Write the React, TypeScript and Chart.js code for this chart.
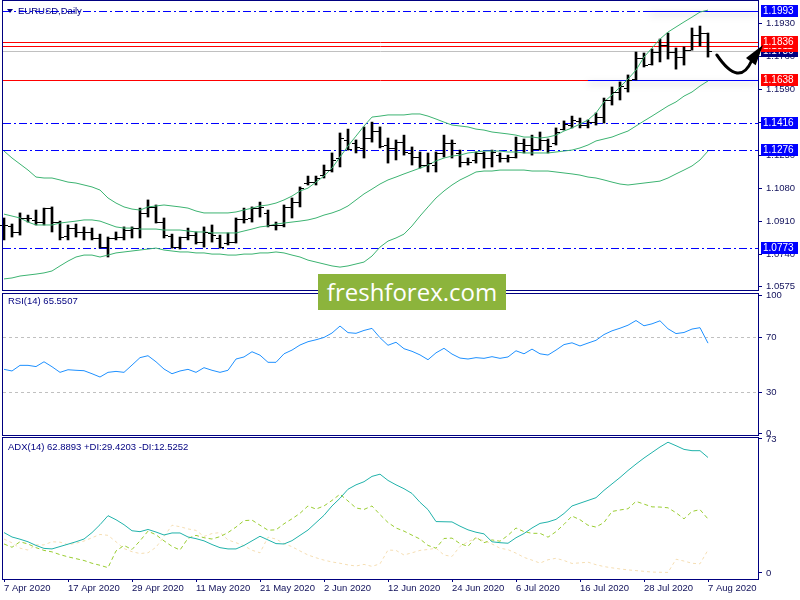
import React, { useEffect, useRef } from "react";
import { Chart, registerables } from "chart.js";

Chart.register(...registerables);

const FONT = "'Liberation Sans', Arial, sans-serif";
const NAVY = "#000080";
const AXIS_TEXT = "#10105a";

// ---- categories (one label every 8 daily bars) ----
const tickDates = [
  "7 Apr 2020", "17 Apr 2020", "29 Apr 2020", "11 May 2020", "21 May 2020", "2 Jun 2020",
  "12 Jun 2020", "24 Jun 2020", "6 Jul 2020", "16 Jul 2020", "28 Jul 2020", "7 Aug 2020",
];
const barsPerLabel = 8;

// ---- EURUSD daily OHLC ----
const openPrices = [
  1.0891, 1.0886, 1.0855, 1.0927, 1.0917, 1.0906, 1.0978, 1.0906, 1.0834, 1.0875,
  1.0855, 1.0855, 1.0824, 1.0777, 1.0824, 1.0829, 1.0865, 1.0875, 1.0953, 1.0984,
  1.0906, 1.0834, 1.0777, 1.0829, 1.0839, 1.0803, 1.0850, 1.0824, 1.0798, 1.0803,
  1.0922, 1.0927, 1.0978, 1.0953, 1.0891, 1.0891, 1.0984, 1.1009, 1.1107, 1.1112,
  1.1148, 1.1174, 1.1236, 1.1329, 1.1313, 1.1288, 1.1339, 1.1375, 1.1303, 1.1288,
  1.1318, 1.1262, 1.1241, 1.1200, 1.1200, 1.1262, 1.1313, 1.1262, 1.1215, 1.1226,
  1.1262, 1.1236, 1.1251, 1.1236, 1.1241, 1.1313, 1.1303, 1.1282, 1.1329, 1.1313,
  1.1385, 1.1406, 1.1427, 1.1406, 1.1421, 1.1447, 1.1535, 1.1576, 1.1597, 1.1643,
  1.1751, 1.1720, 1.1782, 1.1818, 1.1782, 1.1756, 1.1792, 1.1870, 1.1880,
];
const highPrices = [
  1.0927, 1.0896, 1.0953, 1.0942, 1.0968, 1.0978, 1.0984, 1.0911, 1.0891, 1.0896,
  1.0881, 1.0875, 1.0844, 1.0829, 1.0855, 1.0881, 1.0881, 1.0978, 1.1020, 1.0994,
  1.0927, 1.0844, 1.0829, 1.0875, 1.0855, 1.0881, 1.0891, 1.0839, 1.0850, 1.0927,
  1.0978, 1.0984, 1.1009, 1.0968, 1.0906, 1.0994, 1.1030, 1.1087, 1.1143, 1.1143,
  1.1200, 1.1262, 1.1365, 1.1385, 1.1329, 1.1396, 1.1421, 1.1396, 1.1339, 1.1329,
  1.1354, 1.1293, 1.1267, 1.1262, 1.1267, 1.1354, 1.1329, 1.1277, 1.1236, 1.1267,
  1.1267, 1.1277, 1.1262, 1.1251, 1.1344, 1.1334, 1.1354, 1.1370, 1.1334, 1.1391,
  1.1427, 1.1452, 1.1442, 1.1432, 1.1468, 1.1545, 1.1602, 1.1628, 1.1664, 1.1782,
  1.1777, 1.1798, 1.1849, 1.1880, 1.1803, 1.1808, 1.1906, 1.1916, 1.1880,
];
const lowPrices = [
  1.0814, 1.0829, 1.0839, 1.0906, 1.0891, 1.0891, 1.0855, 1.0814, 1.0814, 1.0829,
  1.0814, 1.0814, 1.0772, 1.0726, 1.0814, 1.0814, 1.0824, 1.0824, 1.0932, 1.0901,
  1.0824, 1.0772, 1.0767, 1.0814, 1.0793, 1.0777, 1.0803, 1.0772, 1.0788, 1.0798,
  1.0901, 1.0906, 1.0932, 1.0881, 1.0865, 1.0881, 1.0927, 1.0984, 1.1097, 1.1097,
  1.1133, 1.1164, 1.1190, 1.1277, 1.1262, 1.1236, 1.1318, 1.1288, 1.1210, 1.1226,
  1.1251, 1.1200, 1.1184, 1.1164, 1.1164, 1.1241, 1.1236, 1.1190, 1.1200, 1.1210,
  1.1184, 1.1190, 1.1215, 1.1215, 1.1236, 1.1262, 1.1251, 1.1277, 1.1262, 1.1303,
  1.1380, 1.1391, 1.1391, 1.1391, 1.1406, 1.1416, 1.1509, 1.1535, 1.1576, 1.1638,
  1.1705, 1.1715, 1.1731, 1.1746, 1.1694, 1.1715, 1.1792, 1.1813, 1.1756,
];
const closePrices = [
  1.0891, 1.0855, 1.0927, 1.0927, 1.0906, 1.0978, 1.0906, 1.0829, 1.0875, 1.0855,
  1.0855, 1.0824, 1.0777, 1.0824, 1.0829, 1.0865, 1.0875, 1.0953, 1.0984, 1.0906,
  1.0839, 1.0777, 1.0829, 1.0839, 1.0803, 1.0855, 1.0839, 1.0777, 1.0803, 1.0922,
  1.0922, 1.0978, 1.0984, 1.0891, 1.0891, 1.0984, 1.1009, 1.1081, 1.1112, 1.1133,
  1.1174, 1.1226, 1.1339, 1.1282, 1.1293, 1.1339, 1.1375, 1.1298, 1.1288, 1.1318,
  1.1267, 1.1241, 1.1200, 1.1210, 1.1262, 1.1313, 1.1313, 1.1215, 1.1215, 1.1262,
  1.1236, 1.1267, 1.1236, 1.1241, 1.1313, 1.1303, 1.1282, 1.1329, 1.1298, 1.1370,
  1.1411, 1.1432, 1.1406, 1.1421, 1.1447, 1.1535, 1.1576, 1.1607, 1.1638, 1.1751,
  1.1715, 1.1782, 1.1818, 1.1782, 1.1756, 1.1792, 1.1870, 1.1880, 1.1786,
];

// ---- Bollinger bands ----
const bbUpper = [
  1.1272, 1.1236, 1.1205, 1.1174, 1.1138, 1.1133, 1.1133, 1.1123, 1.1112, 1.1107,
  1.1097, 1.1087, 1.1071, 1.1030, 1.1004, 1.0984, 1.0973, 1.0968, 1.0984, 1.0989,
  1.0994, 1.0989, 1.0984, 1.0978, 1.0963, 1.0953, 1.0953, 1.0953, 1.0953, 1.0958,
  1.0968, 1.0978, 1.0989, 1.0994, 1.1004, 1.1020, 1.1040, 1.1066, 1.1081, 1.1112,
  1.1143, 1.1184, 1.1241, 1.1298, 1.1349, 1.1401, 1.1447, 1.1452, 1.1458, 1.1458,
  1.1458, 1.1463, 1.1463, 1.1452, 1.1437, 1.1421, 1.1406, 1.1401, 1.1396, 1.1385,
  1.1380, 1.1370, 1.1365, 1.1360, 1.1354, 1.1344, 1.1344, 1.1339, 1.1344, 1.1354,
  1.1375, 1.1391, 1.1411, 1.1432, 1.1468, 1.1525, 1.1561, 1.1602, 1.1643, 1.1689,
  1.1756, 1.1803, 1.1849, 1.1885, 1.1911, 1.1937, 1.1962, 1.1988, 1.1998,
];
const bbMiddle = [
  1.0947, 1.0937, 1.0927, 1.0906, 1.0891, 1.0891, 1.0891, 1.0901, 1.0906, 1.0911,
  1.0917, 1.0917, 1.0911, 1.0896, 1.0881, 1.0875, 1.0875, 1.0870, 1.0870, 1.0870,
  1.0865, 1.0865, 1.0865, 1.0860, 1.0855, 1.0855, 1.0850, 1.0850, 1.0850, 1.0850,
  1.0860, 1.0870, 1.0881, 1.0886, 1.0896, 1.0901, 1.0906, 1.0911, 1.0917, 1.0927,
  1.0942, 1.0953, 1.0968, 1.0989, 1.1020, 1.1051, 1.1076, 1.1102, 1.1123, 1.1138,
  1.1154, 1.1169, 1.1184, 1.1200, 1.1221, 1.1236, 1.1246, 1.1251, 1.1262, 1.1267,
  1.1272, 1.1272, 1.1272, 1.1267, 1.1267, 1.1262, 1.1262, 1.1262, 1.1262, 1.1267,
  1.1272, 1.1277, 1.1288, 1.1303, 1.1324, 1.1334, 1.1344, 1.1360, 1.1375, 1.1401,
  1.1427, 1.1452, 1.1478, 1.1504, 1.1525, 1.1555, 1.1576, 1.1607, 1.1633,
];
const bbLower = [
  1.0613, 1.0618, 1.0628, 1.0633, 1.0638, 1.0644, 1.0654, 1.0680, 1.0705, 1.0726,
  1.0736, 1.0736, 1.0726, 1.0736, 1.0747, 1.0752, 1.0757, 1.0762, 1.0767, 1.0772,
  1.0762, 1.0757, 1.0752, 1.0752, 1.0747, 1.0747, 1.0741, 1.0741, 1.0736, 1.0736,
  1.0741, 1.0741, 1.0747, 1.0747, 1.0752, 1.0747, 1.0736, 1.0726, 1.0710, 1.0700,
  1.0690, 1.0680, 1.0674, 1.0680, 1.0690, 1.0700, 1.0731, 1.0777, 1.0808, 1.0824,
  1.0844, 1.0886, 1.0937, 1.0984, 1.1030, 1.1066, 1.1097, 1.1123, 1.1143, 1.1164,
  1.1169, 1.1169, 1.1174, 1.1174, 1.1174, 1.1174, 1.1169, 1.1169, 1.1169, 1.1164,
  1.1159, 1.1154, 1.1148, 1.1138, 1.1133, 1.1123, 1.1112, 1.1102, 1.1097, 1.1102,
  1.1107, 1.1112, 1.1117, 1.1133, 1.1154, 1.1174, 1.1195, 1.1226, 1.1272,
];

// ---- RSI(14) ----
const rsiValues = [
  46.5, 45.3, 49.4, 49.4, 48.5, 52.0, 48.4, 44.3, 46.2, 45.8,
  45.5, 43.3, 40.9, 44.3, 45.0, 44.3, 49.6, 55.0, 56.4, 52.0,
  46.7, 43.3, 45.3, 46.5, 44.3, 47.7, 45.8, 44.3, 45.8, 54.0,
  55.5, 59.3, 56.8, 51.6, 51.6, 57.8, 60.5, 64.2, 66.6, 68.0,
  69.7, 72.9, 78.0, 73.2, 72.7, 74.8, 76.3, 69.5, 64.0, 66.2,
  61.5, 59.6, 57.0, 53.5, 58.5, 61.8, 57.6, 54.7, 54.0, 55.0,
  54.5, 55.7, 54.5, 55.5, 60.0, 57.8, 61.2, 57.8, 56.9, 60.5,
  64.5, 65.8, 63.5, 65.6, 67.6, 71.8, 74.5, 76.4, 78.6, 82.0,
  78.2, 79.6, 81.8, 76.0, 72.5, 73.3, 75.8, 76.8, 65.55,
];
const rsiLevels = [70, 30];

// ---- ADX(14) ----
const adxValues = [
  22.0, 19.6, 18.4, 17.0, 15.0, 13.4, 13.1, 14.4, 15.7, 17.0,
  18.5, 22.0, 26.3, 31.2, 29.0, 26.3, 23.0, 22.5, 23.7, 22.3,
  20.7, 21.8, 21.8, 19.6, 18.7, 17.5, 15.5, 13.8, 13.1, 13.1,
  15.0, 17.5, 20.0, 18.0, 16.0, 15.8, 17.6, 20.5, 23.4, 27.4,
  31.4, 36.5, 40.7, 45.6, 48.0, 49.7, 52.6, 53.8, 50.4, 48.0,
  45.9, 43.3, 38.5, 34.5, 28.0, 27.9, 27.8, 25.5, 23.5, 22.2,
  21.3, 17.0, 16.5, 16.2, 19.2, 21.5, 24.5, 27.0, 27.8, 29.2,
  32.4, 36.5, 38.0, 39.5, 41.0, 45.0, 48.5, 52.0, 55.8, 59.3,
  62.6, 65.6, 68.6, 71.2, 69.3, 67.3, 66.6, 66.6, 62.89,
];
const plusDI = [
  15.8, 14.0, 17.0, 15.8, 13.8, 12.3, 11.5, 10.0, 8.8, 7.8,
  6.8, 5.3, 4.2, 2.9, 12.0, 15.0, 12.8, 17.5, 22.8, 20.8,
  17.5, 14.5, 12.5, 18.9, 20.5, 19.2, 18.5, 19.8, 22.0, 25.0,
  28.5, 28.8, 26.0, 23.3, 23.5, 26.8, 29.5, 32.5, 36.5, 34.8,
  36.5, 39.5, 42.9, 39.2, 35.4, 34.6, 36.5, 31.8, 27.5, 24.5,
  22.8, 20.6, 18.5, 15.0, 13.5, 18.8, 19.0, 16.0, 14.5, 19.5,
  16.5, 18.0, 17.3, 20.5, 24.5, 22.5, 21.6, 21.6, 19.5, 22.5,
  26.5, 31.0, 29.0, 26.0, 25.0, 27.5, 33.5, 34.3, 35.0, 39.0,
  37.5, 36.0, 35.9, 35.5, 32.8, 29.5, 33.5, 34.5, 29.42,
];
const minusDI = [
  18.5, 16.4, 13.5, 12.5, 15.3, 15.3, 17.0, 16.8, 15.4, 16.2,
  17.4, 19.2, 21.0, 20.5, 17.0, 13.3, 11.6, 10.6, 11.0, 14.0,
  19.8, 26.0, 25.2, 24.0, 23.2, 19.9, 21.5, 22.0, 18.0, 16.5,
  14.8, 12.4, 11.0, 19.5, 18.5, 16.0, 14.3, 12.0, 9.8, 8.3,
  7.0, 6.0, 5.3, 4.4, 3.8, 4.7, 3.6, 5.0, 12.5, 12.3,
  9.8, 11.0, 12.3, 12.8, 13.5, 9.8, 9.0, 14.5, 17.0, 19.0,
  17.5, 15.8, 13.5, 12.7, 10.8, 8.5, 7.0, 5.4, 7.2, 8.0,
  6.8, 5.2, 5.5, 5.9, 4.5, 3.5, 2.8, 2.2, 1.7, 1.3,
  0.9, 0.5, 0.4, 0.3, 7.5, 6.5, 5.3, 5.0, 12.53,
];

// ---- axis ticks ----
const priceTicks = [1.0575, 1.074, 1.091, 1.108, 1.125, 1.142, 1.159, 1.176, 1.193];
const rsiTicks = [0, 30, 70, 100];
const adxTicks = [0, 73];

// ---- drawn levels ----
const dashDotLevels = [1.1993, 1.1416, 1.1276, 1.0773];
const redLevels = [1.1836, 1.1811, 1.1638];
const bidPrice = 1.1786;
const trendLevels = [1.1993, 1.1638];
const trendStarts = [80.75, 73.0];
const tagValues = [1.1786, 1.1811, 1.1836, 1.1993, 1.1638, 1.1416, 1.1276, 1.0773];
const tagColors = ["#000080", "#FF0000", "#FF0000", "#0000FF", "#FF0000", "#0000FF", "#0000FF", "#0000FF"];

// curved arrow annotation (bar index, price)
const arrowStart = [89.1, 1.1767];
const arrowCtrl = [91.94, 1.1594];
const arrowEnd = [93.5, 1.1741];
const arrowTip = [94.875, 1.1818];

const X_MIN = -0.125;
const X_MAX = 94.25;

function xAxis(show: boolean): any {
  return {
    type: "linear",
    min: X_MIN,
    max: X_MAX,
    offset: false,
    display: show,
    border: { display: false },
    grid: { drawOnChartArea: false, drawTicks: true, tickLength: 3, color: NAVY, tickColor: NAVY },
    ticks: {
      autoSkip: false,
      maxRotation: 0,
      minRotation: 0,
      align: "start",
      padding: 1,
      color: AXIS_TEXT,
      font: { family: FONT, size: 9.5 },
      callback: (v: number) => tickDates[Math.round(v / barsPerLabel)] ?? "",
    },
    afterBuildTicks: (s: any) => {
      s.ticks = tickDates.map((_, k) => ({ value: k * barsPerLabel }));
    },
    afterFit: (s: any) => {
      if (show) s.height = 21;
      s.paddingLeft = 0;
      s.paddingRight = 0;
    },
  };
}

function yAxis(min: number, max: number, ticks: number[], fmt: (v: number) => string): any {
  return {
    type: "linear",
    position: "right",
    min,
    max,
    border: { display: false },
    grid: { drawOnChartArea: false, drawTicks: true, tickLength: 4, color: NAVY, tickColor: NAVY },
    ticks: {
      padding: 4,
      autoSkip: false,
      color: AXIS_TEXT,
      font: { family: FONT, size: 9.5 },
      callback: (v: number) => fmt(Number(v)),
    },
    afterBuildTicks: (s: any) => {
      s.ticks = ticks.map((v) => ({ value: v }));
    },
    afterFit: (s: any) => {
      s.width = 42;
      s.paddingTop = 0;
      s.paddingBottom = 0;
    },
  };
}

const framePlugin = {
  id: "frame",
  afterDraw(chart: any) {
    const { ctx, chartArea: a } = chart;
    ctx.save();
    ctx.strokeStyle = NAVY;
    ctx.lineWidth = 1;
    ctx.strokeRect(a.left - 0.5, a.top - 0.5, a.right - a.left + 1, a.bottom - a.top + 1);
    ctx.restore();
  },
};

const priceLevelsPlugin = {
  id: "priceLevels",
  beforeDatasetsDraw(chart: any) {
    const { ctx, chartArea: a, scales } = chart;
    const y = scales.y;
    const x = scales.x;
    const py = (v: number) => Math.round(y.getPixelForValue(v)) + 0.5;
    const hline = (yy: number, x0: number, x1: number) => {
      ctx.beginPath();
      ctx.moveTo(x0, yy);
      ctx.lineTo(x1, yy);
      ctx.stroke();
    };
    ctx.save();
    ctx.beginPath();
    ctx.rect(a.left, a.top, a.right - a.left, a.bottom - a.top);
    ctx.clip();
    ctx.lineWidth = 1;
    ctx.strokeStyle = "#C0C0C0";
    hline(py(bidPrice), a.left, a.right);
    ctx.strokeStyle = "#FF0000";
    redLevels.forEach((v) => hline(py(v), a.left, a.right));
    ctx.strokeStyle = "#0000FF";
    ctx.setLineDash([8, 3, 2, 3]);
    dashDotLevels.forEach((v) => hline(py(v), a.left, a.right));
    ctx.setLineDash([]);
    ctx.shadowColor = "rgba(0,0,0,0.35)";
    ctx.shadowBlur = 7;
    ctx.shadowOffsetY = 3;
    trendLevels.forEach((v, k) => hline(py(v), Math.round(x.getPixelForValue(trendStarts[k])), a.right));
    ctx.restore();
  },
};

const ohlcTicksPlugin = {
  id: "ohlcTicks",
  afterDatasetsDraw(chart: any) {
    const { ctx, scales } = chart;
    const x = scales.x;
    const y = scales.y;
    ctx.save();
    ctx.fillStyle = "#000000";
    openPrices.forEach((o, i) => {
      const px = Math.round(x.getPixelForValue(i));
      ctx.fillRect(px - 4, Math.round(y.getPixelForValue(o)), 3, 1);
      ctx.fillRect(px + 1, Math.round(y.getPixelForValue(closePrices[i])), 3, 1);
    });
    ctx.restore();
  },
};

const tagsPlugin = {
  id: "tags",
  afterDraw(chart: any) {
    const { ctx, chartArea: a, scales } = chart;
    const y = scales.y;
    ctx.save();
    ctx.font = `10px ${FONT}`;
    ctx.textBaseline = "middle";
    ctx.textAlign = "left";
    tagValues.forEach((v, k) => {
      const py = Math.round(y.getPixelForValue(v));
      ctx.fillStyle = tagColors[k];
      ctx.fillRect(a.right + 3, py - 6, 37, 12);
      ctx.fillStyle = "#FFFFFF";
      ctx.fillText(v.toFixed(4), a.right + 5, py + 0.5);
    });
    ctx.restore();
  },
};

const arrowPlugin = {
  id: "arrow",
  afterDraw(chart: any) {
    const { ctx, scales } = chart;
    const P = (p: number[]) => [scales.x.getPixelForValue(p[0]), scales.y.getPixelForValue(p[1])];
    const s = P(arrowStart);
    const c = P(arrowCtrl);
    const e = P(arrowEnd);
    const t = P(arrowTip);
    ctx.save();
    ctx.strokeStyle = "#000000";
    ctx.fillStyle = "#000000";
    ctx.lineWidth = 3;
    ctx.lineCap = "round";
    ctx.beginPath();
    ctx.moveTo(s[0], s[1]);
    ctx.quadraticCurveTo(c[0], c[1], e[0], e[1]);
    ctx.stroke();
    const dx = t[0] - e[0];
    const dy = t[1] - e[1];
    const len = Math.hypot(dx, dy) || 1;
    const nx = -dy / len;
    const ny = dx / len;
    const bx = e[0] - (dx / len) * 2;
    const by = e[1] - (dy / len) * 2;
    ctx.beginPath();
    ctx.moveTo(t[0], t[1]);
    ctx.lineTo(bx + nx * 6, by + ny * 6);
    ctx.lineTo(bx - nx * 6, by - ny * 6);
    ctx.closePath();
    ctx.fill();
    ctx.restore();
  },
};

const rsiLevelsPlugin = {
  id: "rsiLevels",
  beforeDatasetsDraw(chart: any) {
    const { ctx, chartArea: a, scales } = chart;
    ctx.save();
    ctx.strokeStyle = "#C0C0C0";
    ctx.lineWidth = 1;
    ctx.setLineDash([3, 3]);
    rsiLevels.forEach((v) => {
      const yy = Math.round(scales.y.getPixelForValue(v)) + 0.5;
      ctx.beginPath();
      ctx.moveTo(a.left, yy);
      ctx.lineTo(a.right, yy);
      ctx.stroke();
    });
    ctx.restore();
  },
};

const toXY = (arr: number[]) => arr.map((v, i) => ({ x: i, y: v }));

const lineDs = (data: number[], color: string, dash: number[] = []) => ({
  type: "line",
  data: toXY(data),
  borderColor: color,
  borderWidth: 1,
  borderDash: dash,
  pointRadius: 0,
  tension: 0,
  fill: false,
  order: 0,
});

const baseOptions = (padding: any, scales: any) => ({
  responsive: false,
  maintainAspectRatio: false,
  animation: false,
  events: [],
  layout: { padding },
  plugins: { legend: { display: false }, tooltip: { enabled: false } },
  scales,
});

function buildPrice(): any {
  return {
    type: "line",
    data: {
      datasets: [
        lineDs(bbUpper, "#3CB371"),
        lineDs(bbMiddle, "#3CB371"),
        lineDs(bbLower, "#3CB371"),
        {
          type: "bar",
          data: highPrices.map((h, i) => ({ x: i, y: [lowPrices[i], h] })),
          backgroundColor: "#000000",
          borderWidth: 0,
          barThickness: 2,
          grouped: false,
          order: 1,
        },
      ],
    },
    options: baseOptions(
      { left: 3, right: 0, top: 1, bottom: 10 },
      { x: xAxis(false), y: yAxis(1.0556, 1.2045, priceTicks, (v) => v.toFixed(4)) }
    ),
    plugins: [priceLevelsPlugin, ohlcTicksPlugin, framePlugin, tagsPlugin, arrowPlugin],
  };
}

function buildRsi(): any {
  return {
    type: "line",
    data: { datasets: [lineDs(rsiValues, "#1E90FF")] },
    options: baseOptions(
      { left: 3, right: 0, top: 7, bottom: 8 },
      { x: xAxis(false), y: yAxis(-1.27, 101.3, rsiTicks, (v) => String(Math.round(v))) }
    ),
    plugins: [rsiLevelsPlugin, framePlugin],
  };
}

function buildAdx(): any {
  return {
    type: "line",
    data: {
      datasets: [
        lineDs(adxValues, "#20B2AA"),
        lineDs(plusDI, "#9ACD32", [4, 3]),
        lineDs(minusDI, "#F5DEB3", [3, 3]),
      ],
    },
    options: baseOptions(
      { left: 3, right: 0, top: 8, bottom: 0 },
      { x: xAxis(true), y: yAxis(-3.27, 73.5, adxTicks, (v) => String(Math.round(v))) }
    ),
    plugins: [framePlugin],
  };
}

function ChartCanvas({ top, height, build }: { top: number; height: number; build: () => any }) {
  const ref = useRef<HTMLCanvasElement | null>(null);
  useEffect(() => {
    if (!ref.current) return;
    const chart = new Chart(ref.current, build());
    return () => chart.destroy();
  }, []);
  return (
    <canvas
      ref={ref}
      width={800}
      height={height}
      style={{ position: "absolute", left: 0, top, width: 800, height }}
    />
  );
}

const labelStyle: React.CSSProperties = {
  position: "absolute",
  fontFamily: FONT,
  fontSize: "9.5px",
  lineHeight: "11px",
  color: NAVY,
  whiteSpace: "nowrap",
};

export default function App() {
  return (
    <div
      style={{
        position: "fixed",
        left: 0,
        top: 0,
        width: 800,
        height: 600,
        background: "#FFFFFF",
        overflow: "hidden",
      }}
    >
      <ChartCanvas top={0} height={300} build={buildPrice} />
      <ChartCanvas top={287} height={156} build={buildRsi} />
      <ChartCanvas top={430} height={170} build={buildAdx} />
      <div
        style={{
          position: "absolute",
          left: 7,
          top: 9,
          width: 0,
          height: 0,
          borderLeft: "3px solid transparent",
          borderRight: "3px solid transparent",
          borderTop: "4px solid " + NAVY,
        }}
      />
      <div style={{ ...labelStyle, left: 18, top: 5 }}>EURUSD,Daily</div>
      <div style={{ ...labelStyle, left: 8, top: 295 }}>RSI(14) 65.5507</div>
      <div style={{ ...labelStyle, left: 8, top: 441 }}>ADX(14) 62.8893 +DI:29.4203 -DI:12.5252</div>
      <div
        style={{
          position: "absolute",
          left: 318,
          top: 274,
          width: 188,
          height: 36,
          background: "#8CB43C",
          color: "#FFFFFF",
          fontFamily: "'Open Sans', sans-serif",
          fontSize: "24px",
          lineHeight: "36px",
          textAlign: "center",
        }}
      >
        freshforex.com
      </div>
    </div>
  );
}
